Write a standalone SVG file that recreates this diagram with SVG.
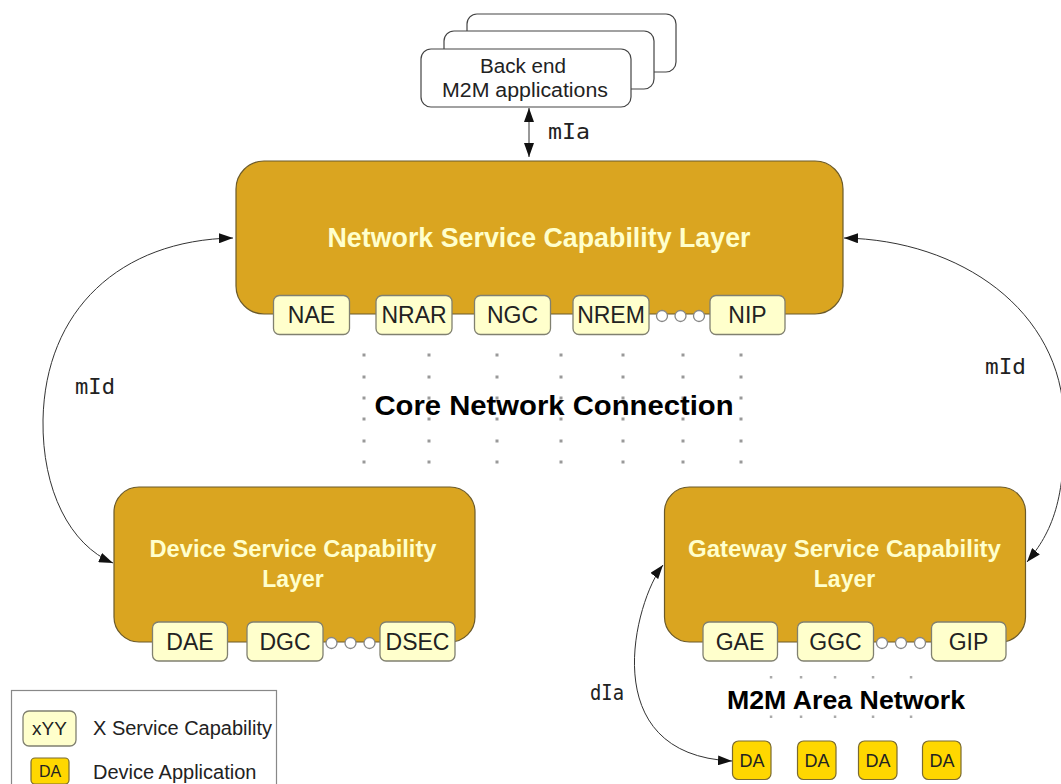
<svg xmlns="http://www.w3.org/2000/svg" width="1061" height="784" viewBox="0 0 1061 784">
<style>
.layer{fill:#DAA520;stroke:#6b5a2a;stroke-width:1.2}
.cap{fill:#FFFFCC;stroke:#808070;stroke-width:1.3}
.da{fill:#FFD700;stroke:#7a6a30;stroke-width:1.2}
.app{fill:#fff;stroke:#444;stroke-width:1.2}
.ring{fill:#fff;stroke:#888;stroke-width:1.3}
.title{font-family:"Liberation Sans",Arial,sans-serif;font-weight:bold;fill:#FFFFCC;text-anchor:middle}
.lbl{font-family:"Liberation Sans",Arial,sans-serif;fill:#222;text-anchor:middle}
.big{font-family:"Liberation Sans",Arial,sans-serif;font-weight:bold;fill:#000;text-anchor:middle}
.mono{font-family:"DejaVu Sans Mono","Liberation Mono",monospace;fill:#222}
.conn{fill:none;stroke:#333;stroke-width:1}
</style>
<defs>
<marker id="ah" viewBox="0 0 14 10" refX="14" refY="5" markerWidth="14" markerHeight="10" markerUnits="userSpaceOnUse" orient="auto-start-reverse"><path d="M0,0 L14,5 L0,10 z" fill="#111"/></marker>
</defs>
<rect width="1061" height="784" fill="#fff"/>

<g id="backend">
<rect class="app" x="467" y="14" width="209" height="58" rx="10"/>
<rect class="app" x="444" y="31" width="210" height="58" rx="10"/>
<rect class="app" x="421" y="49" width="210" height="58" rx="10"/>
<text class="lbl" x="523" y="73" font-size="20" textLength="86" lengthAdjust="spacingAndGlyphs">Back end</text>
<text class="lbl" x="525" y="97" font-size="20" textLength="166" lengthAdjust="spacingAndGlyphs">M2M applications</text>
</g>

<g id="core-dots" fill="#999">
<path d="M362.5,353.5h3v3h-3zM362.5,375.5h3v3h-3zM362.5,396.5h3v3h-3zM362.5,417.5h3v3h-3zM362.5,439.5h3v3h-3zM362.5,460.5h3v3h-3z
M427.5,353.5h3v3h-3zM427.5,375.5h3v3h-3zM427.5,396.5h3v3h-3zM427.5,417.5h3v3h-3zM427.5,439.5h3v3h-3zM427.5,460.5h3v3h-3z
M495.5,353.5h3v3h-3zM495.5,375.5h3v3h-3zM495.5,396.5h3v3h-3zM495.5,417.5h3v3h-3zM495.5,439.5h3v3h-3zM495.5,460.5h3v3h-3z
M559.5,353.5h3v3h-3zM559.5,375.5h3v3h-3zM559.5,396.5h3v3h-3zM559.5,417.5h3v3h-3zM559.5,439.5h3v3h-3zM559.5,460.5h3v3h-3z
M621.5,353.5h3v3h-3zM621.5,375.5h3v3h-3zM621.5,396.5h3v3h-3zM621.5,417.5h3v3h-3zM621.5,439.5h3v3h-3zM621.5,460.5h3v3h-3z
M681.5,353.5h3v3h-3zM681.5,375.5h3v3h-3zM681.5,396.5h3v3h-3zM681.5,417.5h3v3h-3zM681.5,439.5h3v3h-3zM681.5,460.5h3v3h-3z
M739.5,353.5h3v3h-3zM739.5,375.5h3v3h-3zM739.5,396.5h3v3h-3zM739.5,417.5h3v3h-3zM739.5,439.5h3v3h-3zM739.5,460.5h3v3h-3z"/>
<text class="big" x="554" y="415" font-size="27" textLength="359" lengthAdjust="spacingAndGlyphs">Core Network Connection</text>
</g>

<g id="area-dots" fill="#aaa">
<path d="M769.8,676h2.5v2.5h-2.5zM799.8,676h2.5v2.5h-2.5zM833.8,676h2.5v2.5h-2.5zM871.8,676h2.5v2.5h-2.5zM909.8,676h2.5v2.5h-2.5z
M769.8,715.5h2.5v2.5h-2.5zM799.8,715.5h2.5v2.5h-2.5zM833.8,715.5h2.5v2.5h-2.5zM871.8,715.5h2.5v2.5h-2.5zM909.8,715.5h2.5v2.5h-2.5z"/>
<text class="big" x="846" y="709" font-size="26" textLength="238" lengthAdjust="spacingAndGlyphs">M2M Area Network</text>
</g>

<g id="nscl">
<rect class="layer" x="236" y="161" width="607" height="153" rx="28"/>
<text class="title" x="539" y="247" font-size="27" textLength="423" lengthAdjust="spacingAndGlyphs">Network Service Capability Layer</text>
<circle class="ring" cx="662" cy="316" r="5.5"/>
<circle class="ring" cx="680.5" cy="316" r="5.5"/>
<circle class="ring" cx="699" cy="316" r="5.5"/>
<rect class="cap" x="273.5" y="295.5" width="76" height="39" rx="6"/>
<rect class="cap" x="376" y="295.5" width="76" height="39" rx="6"/>
<rect class="cap" x="474.5" y="295.5" width="76" height="39" rx="6"/>
<rect class="cap" x="573" y="295.5" width="76" height="39" rx="6"/>
<rect class="cap" x="710" y="295.5" width="75" height="39" rx="6"/>
<text class="lbl" x="311.5" y="323" font-size="23">NAE</text>
<text class="lbl" x="414" y="323" font-size="23">NRAR</text>
<text class="lbl" x="512.5" y="323" font-size="23">NGC</text>
<text class="lbl" x="611" y="323" font-size="23">NREM</text>
<text class="lbl" x="747.5" y="323" font-size="23">NIP</text>
</g>

<g id="dscl">
<rect class="layer" x="114" y="487" width="361" height="155" rx="25"/>
<text class="title" x="293" y="557" font-size="23" textLength="287" lengthAdjust="spacingAndGlyphs">Device Service Capability</text>
<text class="title" x="293" y="587" font-size="23">Layer</text>
<circle class="ring" cx="331.5" cy="643" r="5.5"/>
<circle class="ring" cx="350.5" cy="643" r="5.5"/>
<circle class="ring" cx="369.5" cy="643" r="5.5"/>
<rect class="cap" x="152.5" y="622" width="75" height="39" rx="6"/>
<rect class="cap" x="247" y="622" width="76" height="39" rx="6"/>
<rect class="cap" x="380" y="622" width="75" height="39" rx="6"/>
<text class="lbl" x="190" y="650" font-size="23">DAE</text>
<text class="lbl" x="285" y="650" font-size="23">DGC</text>
<text class="lbl" x="417.5" y="650" font-size="23">DSEC</text>
</g>

<g id="gscl">
<rect class="layer" x="664.5" y="487" width="361" height="155" rx="25"/>
<text class="title" x="844.5" y="557" font-size="23" textLength="313" lengthAdjust="spacingAndGlyphs">Gateway Service Capability</text>
<text class="title" x="844.5" y="587" font-size="23">Layer</text>
<circle class="ring" cx="882" cy="643" r="5.5"/>
<circle class="ring" cx="901" cy="643" r="5.5"/>
<circle class="ring" cx="920" cy="643" r="5.5"/>
<rect class="cap" x="703" y="622" width="74.5" height="39" rx="6"/>
<rect class="cap" x="797.5" y="622" width="76" height="39" rx="6"/>
<rect class="cap" x="931.5" y="622" width="74.5" height="39" rx="6"/>
<text class="lbl" x="740" y="650" font-size="23">GAE</text>
<text class="lbl" x="835.5" y="650" font-size="23">GGC</text>
<text class="lbl" x="968.5" y="650" font-size="23">GIP</text>
</g>

<g id="device-apps">
<rect class="da" x="732.5" y="741" width="38.5" height="38.5" rx="6"/>
<rect class="da" x="797.5" y="741" width="38.5" height="38.5" rx="6"/>
<rect class="da" x="858.5" y="741" width="38.5" height="38.5" rx="6"/>
<rect class="da" x="922.5" y="741" width="38.5" height="38.5" rx="6"/>
<text class="lbl" x="752" y="767" font-size="18">DA</text>
<text class="lbl" x="817" y="767" font-size="18">DA</text>
<text class="lbl" x="878" y="767" font-size="18">DA</text>
<text class="lbl" x="942" y="767" font-size="18">DA</text>
</g>

<g id="connectors">
<line class="conn" x1="529" y1="108" x2="529" y2="157" marker-start="url(#ah)" marker-end="url(#ah)"/>
<path class="conn" d="M233,238 C120,240 45,310 43,420 C42,490 70,545 113,563" marker-start="url(#ah)" marker-end="url(#ah)"/>
<path class="conn" d="M844,238 C960,240 1062,310 1064,420 C1066,500 1052,532 1027,562" marker-start="url(#ah)" marker-end="url(#ah)"/>
<path class="conn" d="M663,565 C635,600 593,755 732,761" marker-start="url(#ah)" marker-end="url(#ah)"/>
<text class="mono" x="548" y="139" font-size="22" textLength="42" lengthAdjust="spacingAndGlyphs">mIa</text>
<text class="mono" x="75" y="394" font-size="22" textLength="40" lengthAdjust="spacingAndGlyphs">mId</text>
<text class="mono" x="985" y="374" font-size="22" textLength="41" lengthAdjust="spacingAndGlyphs">mId</text>
<text class="mono" x="590" y="700" font-size="21" textLength="34" lengthAdjust="spacingAndGlyphs">dIa</text>
</g>

<g id="legend">
<rect x="11.5" y="690.5" width="265" height="110" fill="#fff" stroke="#888" stroke-width="1.2"/>
<rect class="cap" x="23" y="711" width="53" height="35" rx="6"/>
<text class="lbl" x="49.5" y="735" font-size="19">xYY</text>
<text x="93" y="735" font-size="20" font-family="Liberation Sans, Arial, sans-serif" fill="#222">X Service Capability</text>
<rect class="da" x="31" y="758" width="38" height="26" rx="4"/>
<text class="lbl" x="50" y="777" font-size="16" fill="#444">DA</text>
<text x="93" y="779" font-size="20" font-family="Liberation Sans, Arial, sans-serif" fill="#222">Device Application</text>
</g>
</svg>
